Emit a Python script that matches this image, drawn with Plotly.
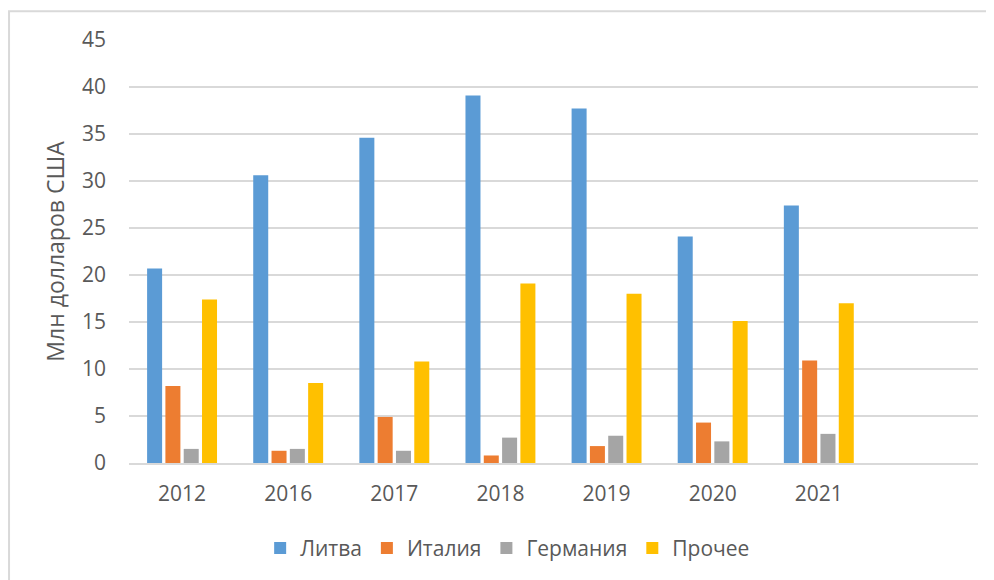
import plotly.graph_objects as go

YEARS = ['2012', '2016', '2017', '2018', '2019', '2020', '2021']

LITHUANIA = [20.7, 30.6, 34.6, 39.1, 37.7, 24.1, 27.4]
ITALY = [8.2, 1.3, 4.9, 0.8, 1.8, 4.3, 10.9]
GERMANY = [1.5, 1.5, 1.3, 2.7, 2.9, 2.3, 3.1]
OTHER = [17.4, 8.5, 10.8, 19.1, 18.0, 15.1, 17.0]

SERIES = [
    ('Литва', LITHUANIA, '#5B9BD5'),
    ('Италия', ITALY, '#ED7D31'),
    ('Германия', GERMANY, '#A5A5A5'),
    ('Прочее', OTHER, '#FFC000'),
]

FONT = 'Open Sans'
TEXT_COLOR = '#595959'
GRID_COLOR = '#D9D9D9'

fig = go.Figure()
for name, values, color in SERIES:
    fig.add_trace(go.Bar(x=YEARS, y=values, name=name,
                         marker=dict(color=color, line=dict(width=0))))

# page body has an 8px margin, so the figure is shrunk and shifted to fit
fig.update_layout(
    width=986, height=572,
    margin=dict(l=121, r=16, t=32, b=116),
    paper_bgcolor='white', plot_bgcolor='white',
    font=dict(family=FONT, size=21, color=TEXT_COLOR),
    barmode='group', bargap=0.31, bargroupgap=0.18,
    showlegend=True,
    legend=dict(orientation='h', x=0.446, y=-0.199,
                xanchor='center', yanchor='middle',
                font=dict(size=21, color=TEXT_COLOR),
                itemwidth=30, tracegroupgap=0),
)

fig.update_xaxes(type='category', range=[-0.5, 7.5],
                 showgrid=False, showline=True, linecolor=GRID_COLOR,
                 linewidth=2, ticks='', ticklabelstandoff=11,
                 tickfont=dict(size=21, color=TEXT_COLOR))
fig.update_yaxes(range=[0, 45], dtick=5, showgrid=True,
                 gridcolor=GRID_COLOR, gridwidth=2, zeroline=False,
                 ticks='', ticklabelstandoff=22,
                 tickfont=dict(size=21, color=TEXT_COLOR),
                 title=dict(text='Млн долларов США', standoff=10,
                            font=dict(size=23, color=TEXT_COLOR)))

# chart frame
fig.add_shape(type='rect', xref='paper', yref='paper',
              x0=-0.1413, x1=1.05, y0=-0.4, y1=1.068,
              line=dict(color=GRID_COLOR, width=2), fillcolor='rgba(0,0,0,0)',
              layer='below')

fig.write_html("out.html")
